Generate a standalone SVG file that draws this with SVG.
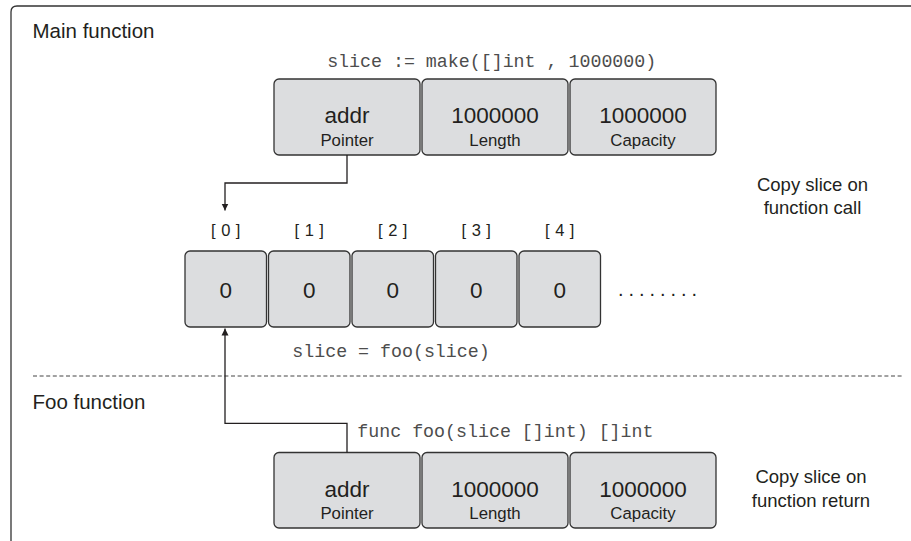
<svg xmlns="http://www.w3.org/2000/svg" width="911" height="541" viewBox="0 0 911 541">
<style>
.box{fill:#dcdddf;stroke:#333;stroke-width:1.3}
.val{font-family:"Liberation Sans",Arial,sans-serif;font-size:22.5px;fill:#231f20;text-anchor:middle}
.lbl{font-family:"Liberation Sans",Arial,sans-serif;font-size:16.8px;fill:#231f20;text-anchor:middle}
.title{font-family:"Liberation Sans",Arial,sans-serif;font-size:20.5px;fill:#231f20}
.note{font-family:"Liberation Sans",Arial,sans-serif;font-size:18.5px;fill:#231f20;text-anchor:middle}
.code{font-family:"Liberation Mono","Courier New",monospace;font-size:18.3px;fill:#4d4d4d}
.idx{font-family:"Liberation Sans",Arial,sans-serif;font-size:16.5px;fill:#231f20;text-anchor:middle;letter-spacing:5.5px}
.conn{fill:none;stroke:#231f20;stroke-width:1.3}
</style>
<defs>
<marker id="arr" viewBox="0 0 10 10" refX="10" refY="5" markerWidth="7" markerHeight="9" markerUnits="userSpaceOnUse" orient="auto">
<path d="M0,0 L10,5 L0,10 z" fill="#231f20"/>
</marker>
</defs>
<rect width="911" height="541" fill="#fff"/>
<path d="M11 541 V12 Q11 6 17 6 H911" fill="none" stroke="#333" stroke-width="1.3"/>
<line x1="33" y1="376" x2="902" y2="376" stroke="#444" stroke-width="1" stroke-dasharray="4 2.6"/>
<text class="title" x="32.5" y="37.5">Main function</text>
<text class="title" x="32.5" y="408.5">Foo function</text>
<text class="code" x="491.7" y="66.7" text-anchor="middle">slice := make([]int , 1000000)</text>
<text class="code" x="391" y="357" text-anchor="middle">slice = foo(slice)</text>
<text class="code" x="357.3" y="436.7">func foo(slice []int) []int</text>
<text class="note" x="812.5" y="190.5">Copy slice on</text>
<text class="note" x="812.5" y="214">function call</text>
<text class="note" x="811" y="482.7">Copy slice on</text>
<text class="note" x="811" y="506.7">function return</text>
<g id="top-pointer"><rect class="box" x="274" y="79" width="146" height="76" rx="5"/><text class="val" x="347" y="123.3">addr</text><text class="lbl" x="347" y="146">Pointer</text></g>
<g id="top-length"><rect class="box" x="422" y="79" width="146" height="76" rx="5"/><text class="val" x="495" y="123.3">1000000</text><text class="lbl" x="495" y="146">Length</text></g>
<g id="top-capacity"><rect class="box" x="570" y="79" width="146" height="76" rx="5"/><text class="val" x="643" y="123.3">1000000</text><text class="lbl" x="643" y="146">Capacity</text></g>
<g id="elem0"><text class="idx" x="228.5" y="236">[0]</text><rect class="box" x="185" y="251" width="81.5" height="76" rx="5"/><text class="val" x="225.8" y="298">0</text></g>
<g id="elem1"><text class="idx" x="312" y="236">[1]</text><rect class="box" x="268.5" y="251" width="81.5" height="76" rx="5"/><text class="val" x="309.3" y="298">0</text></g>
<g id="elem2"><text class="idx" x="395.5" y="236">[2]</text><rect class="box" x="352" y="251" width="81.5" height="76" rx="5"/><text class="val" x="392.8" y="298">0</text></g>
<g id="elem3"><text class="idx" x="479" y="236">[3]</text><rect class="box" x="435.5" y="251" width="81.5" height="76" rx="5"/><text class="val" x="476.3" y="298">0</text></g>
<g id="elem4"><text class="idx" x="562.5" y="236">[4]</text><rect class="box" x="519" y="251" width="81.5" height="76" rx="5"/><text class="val" x="559.8" y="298">0</text></g>
<text x="618" y="296" font-family="Liberation Sans,Arial,sans-serif" font-size="20px" fill="#231f20" letter-spacing="4.95px">........</text>
<g id="foo-pointer"><rect class="box" x="274" y="452.5" width="146" height="75.5" rx="5"/><text class="val" x="347" y="497">addr</text><text class="lbl" x="347" y="518.5">Pointer</text></g>
<g id="foo-length"><rect class="box" x="422" y="452.5" width="146" height="75.5" rx="5"/><text class="val" x="495" y="497">1000000</text><text class="lbl" x="495" y="518.5">Length</text></g>
<g id="foo-capacity"><rect class="box" x="570" y="452.5" width="146" height="75.5" rx="5"/><text class="val" x="643" y="497">1000000</text><text class="lbl" x="643" y="518.5">Capacity</text></g>
<g id="connectors">
<path class="conn" d="M347 155 V183 H225 V210.5" marker-end="url(#arr)"/>
<path class="conn" d="M347 452.5 V423.3 H225 V328.5" marker-end="url(#arr)"/>
</g>
</svg>
